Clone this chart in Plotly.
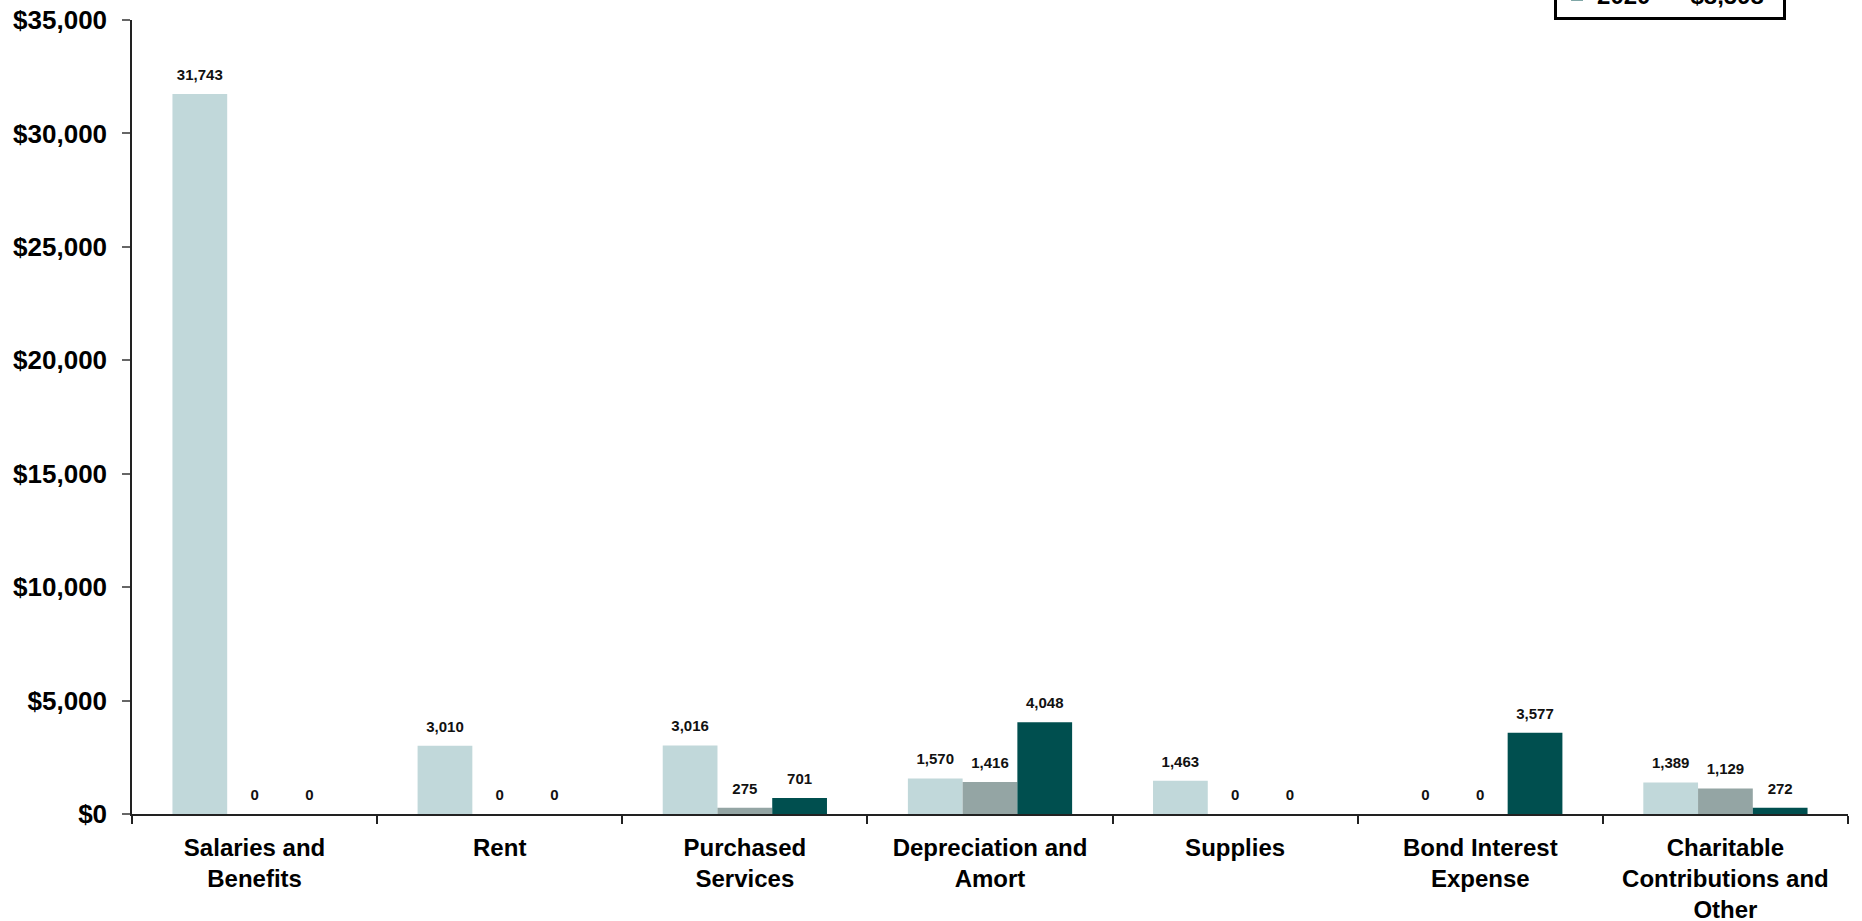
import plotly.graph_objects as go

categories = ["Salaries and<br>Benefits", "Rent", "Purchased<br>Services",
              "Depreciation and<br>Amort", "Supplies", "Bond Interest<br>Expense",
              "Charitable<br>Contributions and<br>Other"]
years = ["2018", "2019", "2020"]
values_2018 = [31743, 3010, 3016, 1570, 1463, 0, 1389]
values_2019 = [0, 0, 275, 1416, 0, 0, 1129]
values_2020 = [0, 0, 701, 4048, 0, 3577, 272]
series_values = [values_2018, values_2019, values_2020]
colors = ["#C1D8DA", "#94A5A4", "#004F4F"]
y_ticks = [0, 5000, 10000, 15000, 20000, 25000, 30000, 35000]
y_tick_labels = [f"${v:,}" for v in y_ticks]

FONT = "Liberation Sans, Arial, sans-serif"
fig = go.Figure()

for yr, vals, col in zip(years, series_values, colors):
    total = sum(vals)
    fig.add_trace(go.Bar(
        x=categories, y=vals, name=f"{yr}\u00a0\u00a0\u00a0\u00a0\u00a0\u00a0${total:,}",
        marker=dict(color=col, line=dict(width=0)),
        offsetgroup=yr, hoverinfo="skip",
    ))

for yr, vals in zip(years, series_values):
    fig.add_trace(go.Scatter(
        x=categories, y=vals, mode="markers+text",
        text=[f"{v:,}" for v in vals], textposition="top center",
        textfont=dict(family=FONT, size=15, color="#111", weight="bold"),
        marker=dict(size=15, opacity=0),
        offsetgroup=yr, showlegend=False, hoverinfo="skip", cliponaxis=False,
    ))

fig.update_layout(
    width=1862, height=921,
    barmode="group", bargap=0.33, bargroupgap=0,
    scattermode="group", scattergap=0.33,
    plot_bgcolor="white", paper_bgcolor="white",
    margin=dict(l=132, r=14, t=20, b=107, autoexpand=False),
    font=dict(family=FONT, color="#000"),
    legend=dict(
        x=0.8287, xanchor="left", y=1.0, yanchor="bottom",
        bgcolor="white", bordercolor="#000", borderwidth=3,
        font=dict(family=FONT, size=24, color="#000", weight="bold"),
        traceorder="normal",
    ),
    xaxis=dict(
        showline=True, linecolor="#222", linewidth=1.5,
        ticks="outside", ticklen=8, tickcolor="#222", tickwidth=1.5,
        tickson="boundaries", showgrid=False,
        tickfont=dict(family=FONT, size=24, color="#000", weight="bold"),
        ticklabelstandoff=11,
    ),
    yaxis=dict(
        range=[0, 35000], tickmode="array", tickvals=y_ticks, ticktext=y_tick_labels,
        showline=True, linecolor="#222", linewidth=1.5,
        ticks="outside", ticklen=8, tickcolor="#666", tickwidth=1.5,
        showgrid=False, zeroline=False,
        tickfont=dict(family=FONT, size=26, color="#000", weight="bold"),
        ticklabelstandoff=10,
    ),
)

fig.write_html("out.html")
